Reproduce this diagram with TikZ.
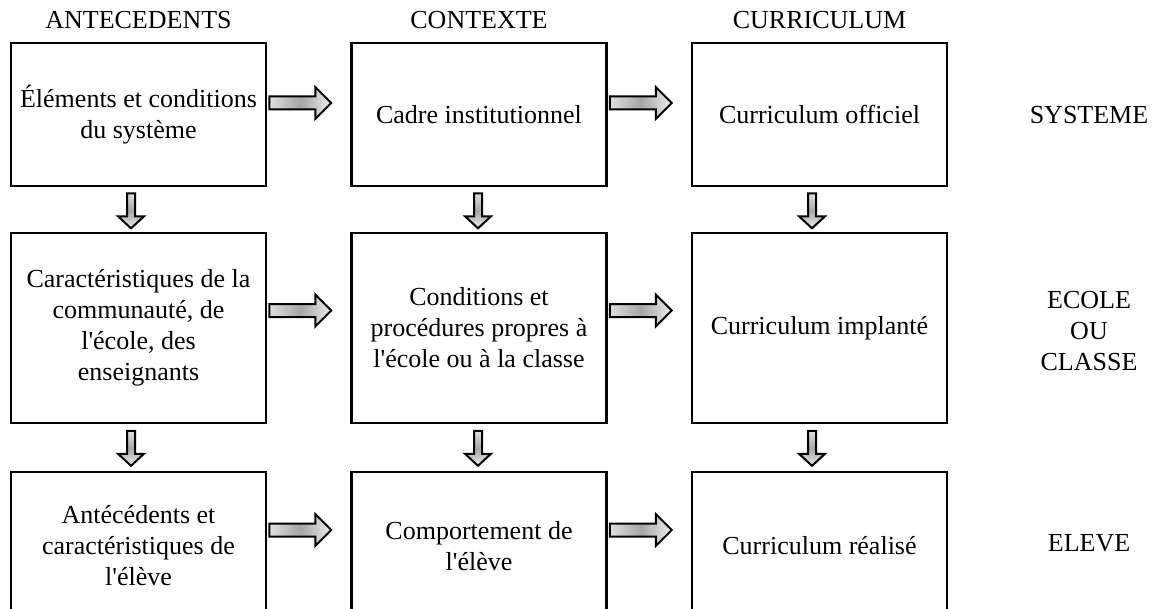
\documentclass[tikz,border=0pt]{standalone}
\usepackage{fontspec}
\newfontfamily\timesfont{Liberation Serif}
\usetikzlibrary{calc}

\begin{document}
\begin{tikzpicture}
[
    x=0.5pt, y=-0.5pt,
    font=\timesfont\fontsize{13}{15.5}\selectfont,
    cell/.style={draw, line width=1.3pt, minimum width=127.5pt, align=center, inner sep=2pt},
    row1/.style={cell, minimum height=71.5pt},
    row2/.style={cell, minimum height=95pt},
    row3/.style={cell, minimum height=74pt},
    side/.style={align=center},
    arrowfill/.style={draw, line width=1pt, line join=miter},
    harrow/.pic={\path[arrowfill, left color=gray!25, right color=gray!15, middle color=gray!70]
        (0,-6.5) -- (46,-6.5) -- (46,-16) -- (62,0) -- (46,16) -- (46,6.5) -- (0,6.5) -- cycle;},
    varrow/.pic={\path[arrowfill, top color=gray!25, bottom color=gray!15, middle color=gray!70]
        (-4,0) -- (4,0) -- (4,23) -- (13,23) -- (0,35) -- (-13,23) -- (-4,23) -- cycle;},
]
\useasboundingbox (0,0) rectangle (1155,609);

\node (hAnte) at (138.5,20.5) {ANTECEDENTS};
\node (hCont) at (479,20.5) {CONTEXTE};
\node (hCurr) at (819.5,20.5) {CURRICULUM};

\node [row1] (e11) at (138.5,114.5) {Éléments et conditions\\du système};
\node [row1] (e12) at (479,114.5) {Cadre institutionnel};
\node [row1] (e13) at (819.5,114.5) {Curriculum officiel};

\node [row2] (e21) at (138.5,328) {Caractéristiques de la\\communauté, de\\l'école, des\\enseignants};
\node [row2] (e22) at (479,328) {Conditions et\\procédures propres à\\l'école ou à la classe};
\node [row2] (e23) at (819.5,328) {Curriculum implanté};

\node [row3] (e31) at (138.5,546) {Antécédents et\\caractéristiques de\\l'élève};
\node [row3] (e32) at (479,546) {Comportement de\\l'élève};
\node [row3] (e33) at (819.5,546) {Curriculum réalisé};

\node [side] (sSys) at (1089,115) {SYSTEME};
\node [side] (sEcole) at (1089,331) {ECOLE\\OU\\CLASSE};
\node [side] (sEleve) at (1089,543) {ELEVE};

\pic (a1112) at ($(e11.east)+(2,-11.5)$) {harrow};
\pic (a1213) at ($(e12.east)+(2,-11.5)$) {harrow};
\pic (a2122) at ($(e21.east)+(2,-17.5)$) {harrow};
\pic (a2223) at ($(e22.east)+(2,-17.5)$) {harrow};
\pic (a3132) at ($(e31.east)+(2,-16)$) {harrow};
\pic (a3233) at ($(e32.east)+(2,-16)$) {harrow};

\pic (a1121) at ($(e11.south)+(-7.5,6)$) {varrow};
\pic (a1222) at ($(e12.south)+(-1,6)$) {varrow};
\pic (a1323) at ($(e13.south)+(-7.5,6)$) {varrow};
\pic (a2131) at ($(e21.south)+(-7.5,6.5)$) {varrow};
\pic (a2232) at ($(e22.south)+(-1,6.5)$) {varrow};
\pic (a2333) at ($(e23.south)+(-7.5,6.5)$) {varrow};
\end{tikzpicture}
\end{document}
